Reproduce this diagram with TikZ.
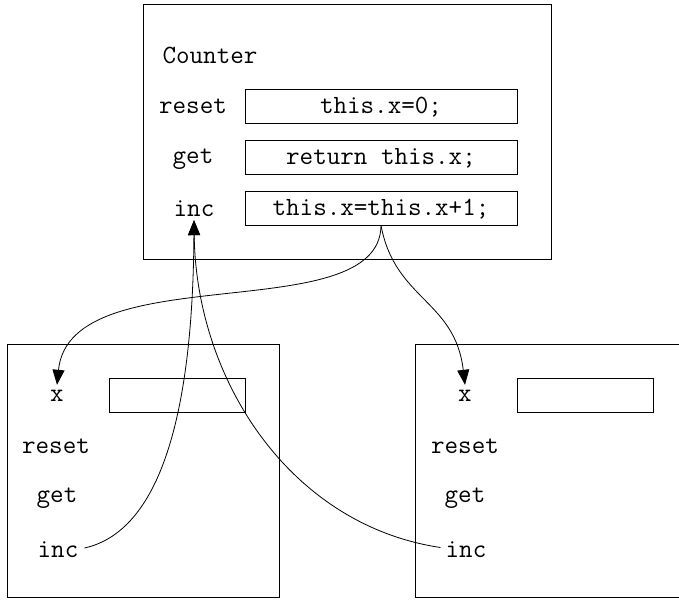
\documentclass[tikz,border=0pt]{standalone}
\usetikzlibrary{arrows.meta,positioning}

\begin{document}
\begin{tikzpicture}[x=1pt, y=-1pt,
    frame/.style={draw, rectangle, line width=0.8pt, anchor=north west, inner sep=0pt},
    codebox/.style={draw, rectangle, line width=0.8pt, minimum width=272pt, minimum height=34pt,
                    inner sep=0pt, text height=18pt, text depth=4pt, font=\fontsize{26.3}{30}\selectfont\ttfamily},
    slot/.style={draw, rectangle, line width=0.8pt, minimum width=136pt, minimum height=34pt,
                 anchor=north west, inner sep=0pt},
    lbl/.style={anchor=base, inner sep=0pt, text height=16pt, text depth=7pt,
                font=\fontsize{26.3}{30}\selectfont\ttfamily},
    link/.style={-{Triangle[length=15pt, width=12pt]}, line width=0.8pt}
]
\useasboundingbox (0,0) rectangle (679,600);

% --- class ---
\node[frame, minimum width=408pt, minimum height=255pt] (cls) at (143,4) {};
\node[lbl] (clsname) at (210,63) {Counter};
\node[lbl] (treset) at (193,113) {reset};
\node[lbl] (tget) at (193,163) {get};
\node[lbl] (tinc) at (194,216) {inc};
\node[codebox] (resetbody) at (381,106) {this.x=0;};
\node[codebox] (getbody) at (381,157) {return this.x;};
\node[codebox] (incbody) at (381,208) {this.x=this.x+1;};

% --- object a ---
\node[frame, minimum width=272pt, minimum height=253pt] (obja) at (7,344) {};
\node[lbl] (ax) at (57,401) {x};
\node[slot] (aslot) at (109,378) {};
\node[lbl] (areset) at (56,453) {reset};
\node[lbl] (aget) at (57,502) {get};
\node[lbl] (ainc) at (58,557) {inc};

% --- object b ---
\node[frame, minimum width=272pt, minimum height=253pt] (objb) at (415,344) {};
\node[lbl] (bx) at (465,401) {x};
\node[slot] (bslot) at (517,378) {};
\node[lbl] (breset) at (465,453) {reset};
\node[lbl] (bget) at (465,502) {get};
\node[lbl] (binc) at (466,557) {inc};

% --- links ---
\draw[link] (incbody.south) .. controls (380,330) and (70,255) .. (ax.north);
\draw[link] (incbody.south) .. controls (395,300) and (455,300) .. (bx.north);
\draw[link] ([shift={(6pt,4.5pt)}]ainc.east) .. controls (165,530) and (193,400) .. ([yshift=3pt]tinc.south);
\draw[link] ([shift={(-5pt,5pt)}]binc.west) .. controls (290,525) and (196,380) .. ([yshift=3pt]tinc.south);

\end{tikzpicture}
\end{document}
